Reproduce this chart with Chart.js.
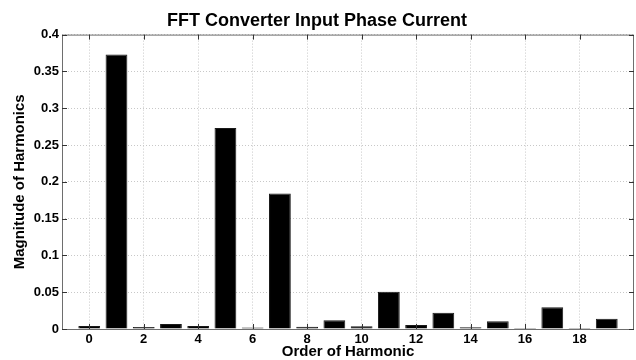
<!DOCTYPE html>
<html>
<head>
<meta charset="utf-8">
<script src="https://cdn.jsdelivr.net/npm/chart.js@4"></script>
<style>
  html, body { margin: 0; padding: 0; background: #fff; }
  #wrap { width: 636px; height: 360px; }
</style>
</head>
<body>
<div id="wrap"><canvas id="grafico"></canvas></div>
<script>
// dados
const ordens = [0, 1, 2, 3, 4, 5, 6, 7, 8, 9, 10, 11, 12, 13, 14, 15, 16, 17, 18, 19];
const magnitudes = [0.004, 0.373, 0.0027, 0.0068, 0.004, 0.273, 0.0021, 0.184, 0.003, 0.012,
                    0.0036, 0.0505, 0.0054, 0.022, 0.0023, 0.0105, 0.0014, 0.0295, 0.0014, 0.014];
const ticksX = [0, 2, 4, 6, 8, 10, 12, 14, 16, 18];
const ticksY = [0, 0.05, 0.1, 0.15, 0.2, 0.25, 0.3, 0.35, 0.4];

const fonte = 'Liberation Sans, Arial, sans-serif';

// caixa e marcas para dentro, estilo MATLAB
const caixaPlugin = {
    id: 'caixa',
    afterDraw(chart) {
        const { ctx, chartArea: a, scales } = chart;
        ctx.save();
        ctx.strokeStyle = '#6e6e6e';
        ctx.lineWidth = 1;
        ctx.strokeRect(a.left + 0.5, a.top + 0.5, a.right - a.left - 1, a.bottom - a.top);
        ctx.strokeStyle = '#333';
        ctx.beginPath();
        ticksX.forEach(v => {
            const x = Math.round(scales.x.getPixelForValue(v)) + 0.5;
            ctx.moveTo(x, a.bottom); ctx.lineTo(x, a.bottom - 5);
            ctx.moveTo(x, a.top); ctx.lineTo(x, a.top + 5);
        });
        ticksY.forEach(v => {
            const y = Math.round(scales.y.getPixelForValue(v)) + 0.5;
            ctx.moveTo(a.left, y); ctx.lineTo(a.left + 5, y);
            ctx.moveTo(a.right, y); ctx.lineTo(a.right - 5, y);
        });
        ctx.stroke();
        ctx.restore();
    }
};

new Chart(document.getElementById('grafico'), {
    type: 'bar',
    data: {
        datasets: [{
            data: ordens.map((o, i) => ({ x: o, y: magnitudes[i] })),
            backgroundColor: '#000',
            borderColor: '#1a1a1a',
            borderWidth: 1,
            barPercentage: 0.8,
            categoryPercentage: 1
        }]
    },
    options: {
        responsive: true,
        maintainAspectRatio: false,
        animation: false,
        layout: { padding: { left: 0, right: 2, top: 0, bottom: 0 } },
        plugins: {
            legend: { display: false },
            tooltip: { enabled: false },
            title: {
                display: true,
                text: 'FFT Converter Input Phase Current',
                color: '#000',
                font: { family: fonte, size: 18, weight: 'bold' },
                padding: { top: 10, bottom: 3 }
            }
        },
        scales: {
            x: {
                type: 'linear',
                offset: false,
                min: -1,
                max: 20,
                afterBuildTicks: s => { s.ticks = ticksX.map(v => ({ value: v })); },
                afterFit: s => { s.height = 31; },
                grid: { color: '#c8c8c8', drawTicks: false, offset: false },
                border: { display: false, dash: [1, 2] },
                ticks: {
                    color: '#000',
                    padding: 3,
                    maxRotation: 0,
                    font: { family: fonte, size: 13, weight: 'bold' }
                },
                title: {
                    display: true,
                    text: 'Order of Harmonic',
                    color: '#000',
                    font: { family: fonte, size: 15, weight: 'bold' },
                    padding: { top: 0, bottom: -1 }
                }
            },
            y: {
                min: 0,
                max: 0.4,
                afterBuildTicks: s => { s.ticks = ticksY.map(v => ({ value: v })); },
                afterFit: s => { s.width = 62; },
                grid: { color: '#c8c8c8', drawTicks: false },
                border: { display: false, dash: [1, 2] },
                ticks: {
                    color: '#000',
                    padding: 3,
                    font: { family: fonte, size: 13, weight: 'bold' },
                    callback: v => String(+v.toFixed(2))
                },
                title: {
                    display: true,
                    text: 'Magnitude of Harmonics',
                    color: '#000',
                    font: { family: fonte, size: 15, weight: 'bold' },
                    padding: { top: 11, bottom: 0 }
                }
            }
        }
    },
    plugins: [caixaPlugin]
});
</script>
</body>
</html>
